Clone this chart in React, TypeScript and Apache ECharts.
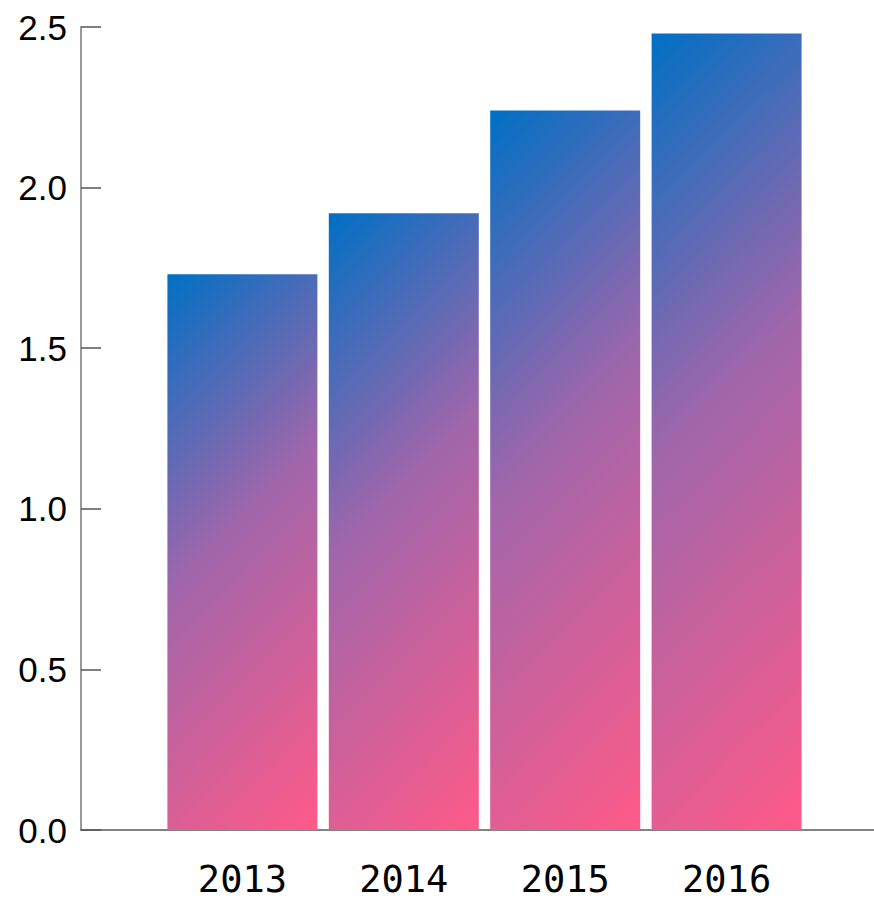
import React, { useEffect, useRef } from "react";
import * as echarts from "echarts";

const categories = ["", "2013", "2014", "2015", "2016", ""];
const values: (number | string)[] = ["-", 1.73, 1.92, 2.24, 2.48, "-"];
const yTicks = { min: 0, max: 2.5, interval: 0.5 };
const gradientStops = [
  { offset: 0, color: "#0070c4" },
  { offset: 0.45, color: "#a066ab" },
  { offset: 1, color: "#ff5a88" },
];

const BAR_W = 150;

export default function App() {
  const ref = useRef<HTMLDivElement>(null);
  useEffect(() => {
    document.body.style.margin = "0";
    const chart = echarts.init(ref.current!, null, { renderer: "svg" });
    const option: any = {
      animation: false,
      grid: {
        left: 81,
        top: 27,
        bottom: 71,
        width: 807,
        containLabel: false,
        outerBoundsMode: "none",
      },
      xAxis: {
        type: "category",
        data: categories,
        boundaryGap: false,
        axisLine: { show: true, lineStyle: { color: "#5a5a5a", width: 1.5 } },
        axisTick: { show: false },
        axisLabel: {
          color: "#000",
          fontFamily: "DejaVu Sans Mono",
          fontSize: 37,
          lineHeight: 30,
          verticalAlign: "top",
          margin: 34,
          interval: 0,
        },
        splitLine: { show: false },
      },
      yAxis: {
        type: "value",
        min: yTicks.min,
        max: yTicks.max,
        interval: yTicks.interval,
        axisLine: { show: true, lineStyle: { color: "#777", width: 1.5 } },
        axisTick: { show: true, inside: true, length: 20, lineStyle: { color: "#555", width: 1.5 } },
        axisLabel: {
          color: "#000",
          fontFamily: "Liberation Sans",
          fontSize: 35,
          margin: 14,
          formatter: (v: number) => v.toFixed(1),
        },
        splitLine: { show: false },
      },
      series: [
        {
          type: "bar",
          data: values,
          barWidth: BAR_W,
          itemStyle: { color: "#ff5a88" },
        },
      ],
    };
    chart.setOption(option);
    const data = values.map((v, i) => {
      if (typeof v !== "number") return v;
      const top = chart.convertToPixel({ gridIndex: 0 }, [i, v]) as number[];
      const base = chart.convertToPixel({ gridIndex: 0 }, [i, 0]) as number[];
      const x0 = top[0] - BAR_W / 2;
      const y0 = top[1];
      const h = base[1] - top[1];
      const L = (BAR_W + h) / 2;
      return {
        value: v,
        itemStyle: {
          color: new echarts.graphic.LinearGradient(x0, y0, x0 + L, y0 + L, gradientStops, true),
        },
      };
    });
    chart.setOption({ series: [{ data }] });
    return () => chart.dispose();
  }, []);
  return <div ref={ref} style={{ width: 874, height: 901 }} />;
}
